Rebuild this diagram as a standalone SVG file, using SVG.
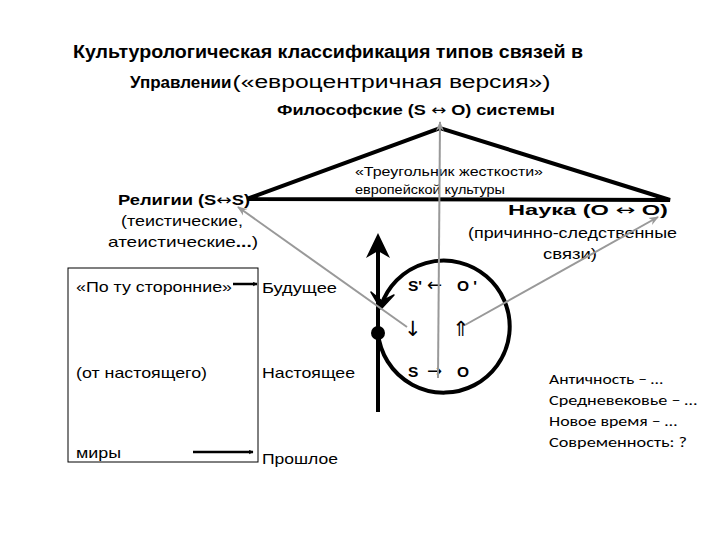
<svg xmlns="http://www.w3.org/2000/svg" width="720" height="540" viewBox="0 0 720 540">
<defs>
<marker id="blk" viewBox="0 0 10 10" refX="9" refY="5" markerWidth="5" markerHeight="5" orient="auto" markerUnits="userSpaceOnUse"><path d="M0,0 L10,5 L0,10 L3,5 z" fill="#000"/></marker>
<marker id="gry" viewBox="0 0 10 10" refX="9" refY="5" markerWidth="10" markerHeight="10" orient="auto" markerUnits="userSpaceOnUse"><path d="M0,1 L10,5 L0,9 L3,5 z" fill="#999"/></marker>
<style>
.t{font-family:"Liberation Sans",Arial,sans-serif;fill:#000}
.b{font-weight:bold}
.a{font-family:"DejaVu Sans",sans-serif;font-weight:normal}
.c{font-family:Carlito,"Open Sans","Liberation Sans",sans-serif;fill:#000}
.g{stroke:#999;stroke-width:2;fill:none;marker-end:url(#gry)}
.k{stroke:#000;fill:none}
</style>
</defs>
<rect width="720" height="540" fill="#fff"/>
<g id="title">
<text class="t b" x="73" y="58" font-size="18" textLength="510" lengthAdjust="spacingAndGlyphs">Культурологическая классификация типов связей в</text>
<text class="t" x="130" y="88" font-size="18"><tspan font-weight="bold" font-size="17">Управлении</tspan><tspan dx="1" textLength="318" lengthAdjust="spacingAndGlyphs">(«евроцентричная версия»)</tspan></text>
</g>
<g id="philosophy">
<text class="t b" x="277" y="115" font-size="14.5" textLength="278" lengthAdjust="spacingAndGlyphs">Философские (S <tspan class="a">↔</tspan> O) системы</text>
</g>
<g id="triangle">
<path d="M247,199 L440,128 L670,200 Z" class="k" stroke-width="4" stroke-linejoin="miter"/>
<text class="t" x="355" y="176" font-size="13" textLength="188" lengthAdjust="spacingAndGlyphs">«Треугольник жесткости»</text>
<text class="t" x="355" y="194" font-size="13" textLength="150" lengthAdjust="spacingAndGlyphs">европейской культуры</text>
</g>
<g id="religion">
<text class="t b" x="118" y="205" font-size="15" textLength="132" lengthAdjust="spacingAndGlyphs">Религии  (S<tspan class="a">↔</tspan>S)</text>
<text class="t" x="121" y="226" font-size="15" textLength="122" lengthAdjust="spacingAndGlyphs">(теистические,</text>
<text class="t" x="108" y="247" font-size="15" textLength="150" lengthAdjust="spacingAndGlyphs">атеистические<tspan font-weight="bold">...</tspan>)</text>
</g>
<g id="science">
<text class="t b" x="508" y="215" font-size="15" textLength="160" lengthAdjust="spacingAndGlyphs">Наука  (O <tspan class="a">↔</tspan> O)</text>
<text class="t" x="468" y="238" font-size="15" textLength="209" lengthAdjust="spacingAndGlyphs">(причинно-следственные</text>
<text class="t" x="543" y="259" font-size="15" textLength="54" lengthAdjust="spacingAndGlyphs">связи)</text>
</g>
<g id="worlds">
<rect x="68" y="268" width="190" height="194" fill="none" stroke="#000" stroke-width="1"/>
<text class="t" x="76" y="292" font-size="15" textLength="156" lengthAdjust="spacingAndGlyphs">«По ту сторонние»</text>
<text class="t" x="76" y="378" font-size="15" textLength="131" lengthAdjust="spacingAndGlyphs">(от настоящего)</text>
<text class="t" x="76" y="458" font-size="15" textLength="45" lengthAdjust="spacingAndGlyphs">миры</text>
</g>
<g id="times">
<text class="t" x="262" y="293" font-size="15" textLength="75" lengthAdjust="spacingAndGlyphs">Будущее</text>
<text class="t" x="262" y="378" font-size="15" textLength="93" lengthAdjust="spacingAndGlyphs">Настоящее</text>
<text class="t" x="262" y="464" font-size="15" textLength="76" lengthAdjust="spacingAndGlyphs">Прошлое</text>
</g>
<g id="cycle">
<path d="M378,333 A66,66 0 1 0 381,306" class="k" stroke-width="4"/>
<path d="M371,292 L381,309 L394,295 L382,301 Z" fill="#000" stroke="#000" stroke-width="1.5" stroke-linejoin="round"/>
<circle cx="378" cy="333" r="7" fill="#000"/>
<text class="t b" x="408" y="291" font-size="15.5">S'</text>
<text class="t a" x="427" y="291" font-size="18">←</text>
<text class="t b" x="457" y="291" font-size="15.5">O '</text>
<text class="t a" x="404" y="336" font-size="21">↓</text>
<text class="t a" x="452" y="336" font-size="21">⇑</text>
<text class="t b" x="408" y="377" font-size="15.5">S</text>
<text class="t a" x="427" y="377" font-size="18">→</text>
<text class="t b" x="457" y="377" font-size="15.5">O</text>
</g>
<g id="epochs">
<text class="c" x="549" y="384" font-size="15" textLength="114" lengthAdjust="spacingAndGlyphs">Античность – …</text>
<text class="c" x="549" y="405" font-size="15" textLength="148" lengthAdjust="spacingAndGlyphs">Средневековье – …</text>
<text class="c" x="549" y="426" font-size="15" textLength="128" lengthAdjust="spacingAndGlyphs">Новое время – …</text>
<text class="c" x="549" y="447" font-size="15" textLength="138" lengthAdjust="spacingAndGlyphs">Современность: ?</text>
</g>
<g id="connectors">
<line x1="378" y1="412" x2="378" y2="250" stroke="#000" stroke-width="4"/>
<path d="M378,233 L390,258 L378,251 L366,258 Z" fill="#000"/>
<line x1="233" y1="284" x2="257" y2="284" stroke="#000" stroke-width="2.5" marker-end="url(#blk)"/>
<line x1="193" y1="452" x2="253" y2="452" stroke="#000" stroke-width="2.5" marker-end="url(#blk)"/>
<line x1="438" y1="378" x2="440" y2="122" class="g"/>
<line x1="407" y1="327" x2="238" y2="207" class="g"/>
<line x1="465" y1="325" x2="658" y2="217" class="g"/>
</g>
</svg>
